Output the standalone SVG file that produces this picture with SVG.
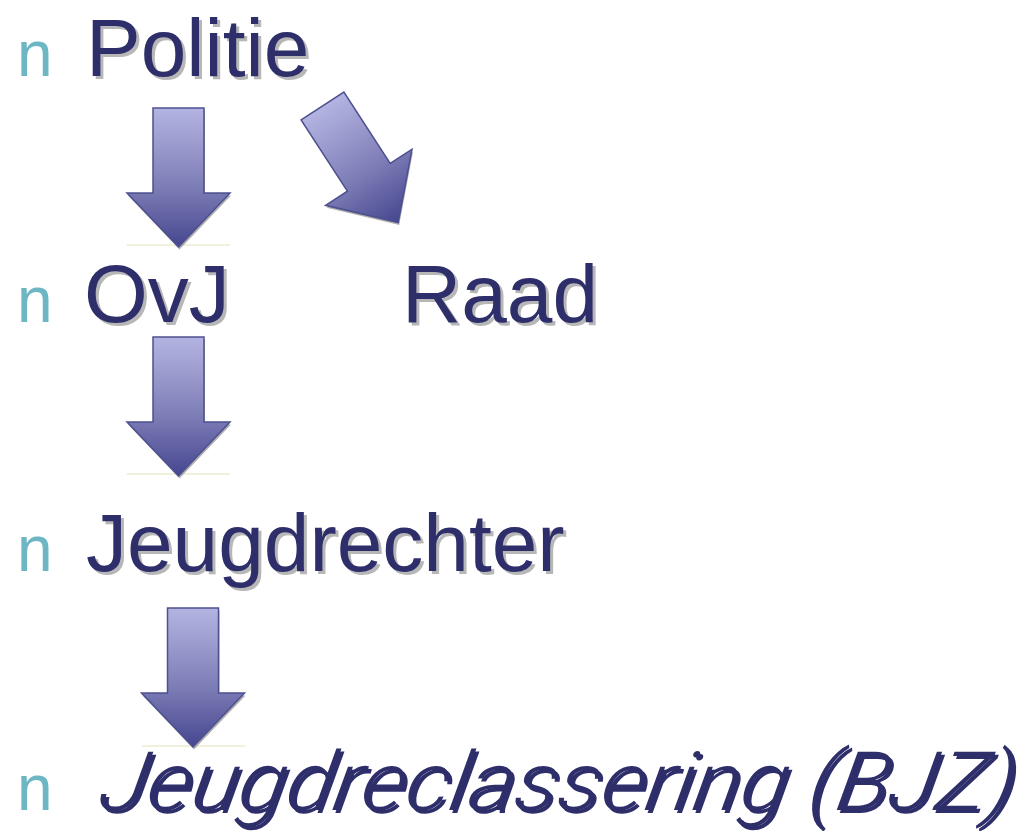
<svg xmlns="http://www.w3.org/2000/svg" xmlns:xlink="http://www.w3.org/1999/xlink" width="1035" height="831" viewBox="0 0 1035 831">
<style>
.bul{font-family:"Liberation Sans",Arial,sans-serif;font-size:64px;fill:#6DB6C3}
.t{font-family:"Liberation Sans",Arial,sans-serif;font-size:82px;fill:#2E2E6B}
.sh{fill:#B7B7B7}
.ti{font-family:Roboto,"Liberation Sans",Arial,sans-serif;font-style:italic;font-weight:300;font-size:82px;fill:#2E2E6B}
.arr{fill:url(#g);stroke:#4D508F;stroke-width:1.5;stroke-linejoin:miter}
.ashadow{fill:#9A9A9A;opacity:0.8}
.base{stroke:#E3E2B6;stroke-width:1.2}
</style>
<defs>
<linearGradient id="g" x1="0" y1="0" x2="0" y2="1">
<stop offset="0" stop-color="#B4B4E2"/>
<stop offset="0.55" stop-color="#7F7FB8"/>
<stop offset="1" stop-color="#464690"/>
</linearGradient>
<path id="arrow" d="M -25.5 0 H 25.5 V 85 H 51.5 L 0 139 L -51.5 85 H -25.5 Z"/>
</defs>
<rect width="1035" height="831" fill="#FFFFFF"/>

<g id="node-politie">
<text class="bul" x="17" y="76">n</text>
<text class="t sh" x="89" y="79">Politie</text>
<text class="t" x="86" y="76">Politie</text>
</g>

<g id="node-ovj">
<text class="bul" x="17" y="322">n</text>
<text class="t sh" x="87" y="325">OvJ</text>
<text class="t" x="84" y="322">OvJ</text>
</g>

<g id="node-raad">
<text class="t sh" x="405" y="325">Raad</text>
<text class="t" x="402" y="322">Raad</text>
</g>

<g id="node-jeugdrechter">
<text class="bul" x="17" y="571">n</text>
<text class="t sh" x="89" y="574">Jeugdrechter</text>
<text class="t" x="86" y="571">Jeugdrechter</text>
</g>

<g id="node-jeugdreclassering">
<text class="bul" x="17" y="810">n</text>
<g transform="translate(100,813) skewX(-10)">
<text class="ti sh" x="0" y="0" textLength="915" lengthAdjust="spacingAndGlyphs">Jeugdreclassering (BJZ)</text>
</g>
<g transform="translate(97,810) skewX(-10)">
<text class="ti" x="0" y="0" textLength="915" lengthAdjust="spacingAndGlyphs">Jeugdreclassering (BJZ)</text>
</g>
</g>

<g id="connectors">
<line class="base" x1="127" y1="245" x2="230" y2="245"/>
<line class="base" x1="127" y1="474" x2="230" y2="474"/>
<line class="base" x1="142" y1="746" x2="245" y2="746"/>
<use xlink:href="#arrow" class="ashadow" transform="translate(179.5,110.5)"/>
<use xlink:href="#arrow" class="arr" transform="translate(178.5,108)"/>
<use xlink:href="#arrow" class="ashadow" transform="translate(323.5,108.5) rotate(-33)"/>
<use xlink:href="#arrow" class="arr" transform="translate(322.5,106) rotate(-33)"/>
<use xlink:href="#arrow" class="ashadow" transform="translate(179.5,339.5)"/>
<use xlink:href="#arrow" class="arr" transform="translate(178.5,337)"/>
<use xlink:href="#arrow" class="ashadow" transform="translate(194,610.5)"/>
<use xlink:href="#arrow" class="arr" transform="translate(193,608)"/>
</g>
</svg>
